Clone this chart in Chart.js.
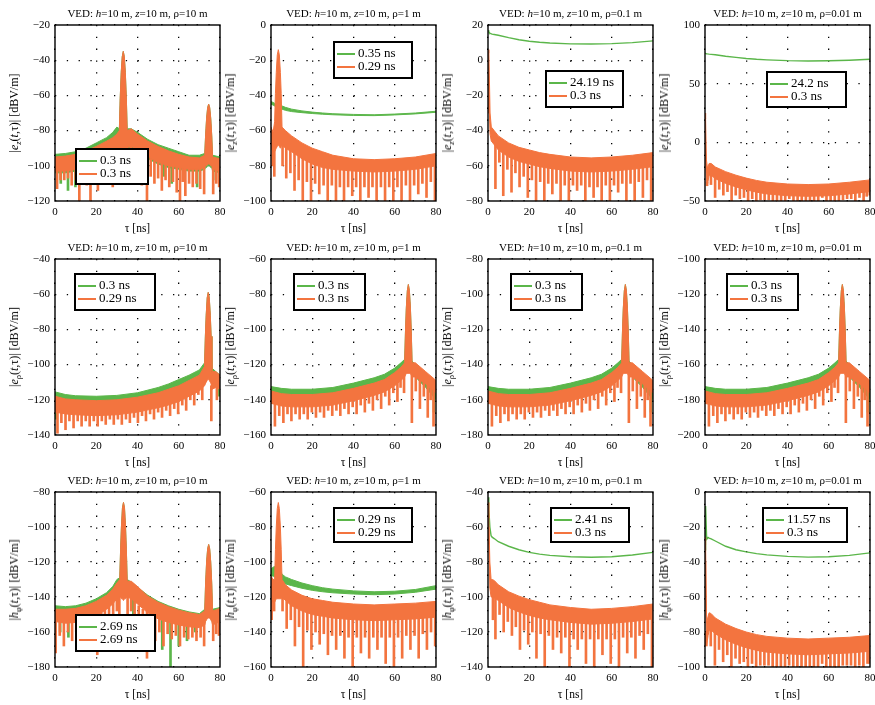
<!DOCTYPE html>
<html>
<head>
<meta charset="utf-8">
<script src="https://cdn.jsdelivr.net/npm/chart.js@4.4.1/dist/chart.umd.min.js"></script>
<style>
  html, body { margin: 0; padding: 0; background: #fff; }
  #fig { position: relative; width: 875px; height: 705px; overflow: hidden; font-family: "Liberation Serif", "Times New Roman", serif; color: #000; }
  #fig canvas { position: absolute; }
  .title, .xlab, .ylab { position: absolute; white-space: nowrap; }
  .title { font-size: 11px; transform: translate(-50%, -50%); }
  .xlab { font-size: 11.5px; transform: translate(-50%, -50%); }
  .ylab { font-size: 12px; transform: translate(-50%, -50%) rotate(-90deg); }
  .ylab sub { font-size: 8.5px; vertical-align: -3px; }
  .legend { position: absolute; box-sizing: border-box; border: 2px solid #000; background: #fff; padding-top: 4px; font-size: 13px; }
  .legend .row { position: relative; height: 12.5px; line-height: 12.5px; white-space: nowrap; }
  .legend .swatch { position: absolute; left: 2px; top: 6px; width: 18px; height: 2px; }
  .legend .lab { position: absolute; left: 23px; top: 0; }
</style>
</head>
<body>
<div id="fig"></div>
<script>
// ---------- data (tau in ns, levels in dB) ----------
// each dip list holds [tau, lowest level, level where the dip leaves the band]

// row 1: |e_z|, rho = 10 m
const p1Tau = [0, 5, 10, 15, 20, 25, 28, 30, 31.2, 31.6, 32.1, 32.6, 33.1, 33.6, 34.1, 34.6, 35.0, 37, 40, 45, 50, 55, 60, 65, 70, 72.6, 73.0, 73.5, 74.0, 74.5, 75.0, 75.5, 76.0, 76.4, 80]
const p1GreenTop = [-93.5, -93, -92, -90, -87, -84, -81, -78, -79, -62, -47, -38, -35, -38, -47, -62, -79, -79, -81, -85, -88, -90, -92, -94, -94, -93, -83, -73, -67, -65, -67, -73, -83, -94, -95]
const p1GreenBot = [-104, -104, -103, -101, -99, -96, -93, -91, -91, -91, -92, -92, -93, -92, -92, -91, -90, -90, -92, -96, -99, -101, -102, -103, -103, -102, -101, -101, -100, -100, -100, -101, -101, -103, -104]
const p1OrangeTop = [-95, -94.5, -93.5, -91.5, -89, -86, -84, -82, -80, -62, -47, -38, -35, -38, -47, -62, -80, -79, -82, -86, -89, -91.5, -93.5, -95, -95.5, -94, -83, -73, -67, -65, -67, -73, -83, -95, -96]
const p1OrangeBot = [-103, -103, -102, -100, -98, -95, -92, -90, -90, -90, -91, -91, -92, -91, -91, -90, -89, -89, -91, -95, -98, -100, -101, -102, -102, -101, -100, -100, -99, -99, -99, -100, -100, -102, -103]
const p1OrangeDips = [[1, -113, -101], [4.5, -108, -101], [8.1, -111, -100], [11.8, -120, -100], [15.4, -111, -99], [17.2, -120, -98], [20.8, -114, -97], [24.4, -109, -95], [28, -112, -91], [31.1, -101, -89], [35.1, -100, -88], [38.5, -109, -90], [42.1, -111, -93], [44.6, -120, -95], [48.2, -110, -97], [51.8, -114, -98], [55.4, -112, -99], [59, -115, -100], [60.6, -120, -100], [63.2, -117, -101], [66.8, -112, -101], [70.4, -113, -101], [72.3, -116, -100], [76.7, -116, -100], [79.6, -112, -102]]
const p1OrangeMinorDips = [[2.7, -108, -101], [6.3, -107, -101], [10, -108, -100], [13.6, -106, -99], [19, -107, -97], [22.6, -105, -96], [26.2, -102, -93], [29.7, -98, -90], [36.7, -97, -89], [40.3, -102, -91], [46.4, -106, -96], [50, -107, -97], [53.6, -108, -98], [57.2, -109, -99], [61.9, -109, -100], [65, -110, -101], [68.6, -110, -101], [78.2, -110, -101]]
const p1GreenDips = [[2.8, -110, -102], [6.3, -114, -102], [9.9, -112, -101], [13.5, -109, -100], [22.3, -107, -97], [29.5, -100, -90], [40.5, -106, -91], [53, -106, -99], [56.6, -110, -100], [68.9, -112, -102], [78, -108, -102]]

// row 1: |e_z|, rho = 1 m
const p2Tau = [0, 1, 1.75, 2.15, 2.55, 3.05, 3.55, 4.05, 4.55, 4.95, 5.35, 7, 10, 15, 20, 25, 30, 40, 50, 60, 70, 80]
const p2GreenTop = [-43.5, -44, -44.5, -44.8, -45, -45.2, -45.3, -45.5, -45.7, -45.9, -46, -46.8, -47.8, -48.8, -49.5, -50, -50.4, -50.8, -51, -50.6, -50, -49]
const p2GreenBot = [-45, -45.5, -46, -46.3, -46.6, -46.8, -47, -47.2, -47.4, -47.6, -47.8, -48.5, -49.2, -49.8, -50.3, -50.7, -51, -51.4, -51.5, -51.1, -50.5, -49.6]
const p2OrangeTop = [-58, -61, -55, -39, -27, -17, -14, -17, -27, -39, -58, -60, -63, -67, -70, -72, -74, -76, -76.5, -76, -75, -73]
const p2OrangeBot = [-70, -72, -72, -71, -70, -69, -68, -69, -70, -69, -68, -70, -72, -76, -79, -81, -82, -83, -83.5, -83, -82, -80]
const p2OrangeDips = [[0.8, -80, -70], [7.4, -87, -68], [11.4, -94, -70], [15.4, -100, -74], [19.4, -100, -77], [23.4, -96, -79], [27.5, -100, -80], [31.5, -100, -81], [35.4, -100, -81], [39.4, -97, -81], [43.3, -100, -82], [47.3, -98, -82], [51.2, -100, -82], [55.3, -100, -82], [59.3, -100, -81], [63.3, -100, -81], [67.4, -100, -81], [71.4, -96, -80], [75.4, -98, -79], [79.5, -100, -78]]
const p2OrangeMinorDips = [[1.6, -86, -70], [5.6, -80, -67], [9.4, -84, -70], [13.4, -88, -73], [17.4, -89, -76], [21.4, -90, -78], [25.5, -91, -79], [29.5, -91, -80], [33.4, -92, -81], [37.4, -92, -81], [41.3, -92, -81], [45.3, -92, -82], [49.2, -92, -82], [53.3, -92, -82], [57.3, -92, -82], [61.3, -92, -81], [65.4, -91, -81], [69.4, -91, -80], [73.4, -90, -79], [77.5, -89, -78]]

// row 1: |e_z|, rho = 0.1 m
const p3Tau = [0, 0.4, 1.0, 1.6, 2, 3, 5, 10, 15, 20, 25, 30, 40, 50, 60, 70, 80]
const p3Green = [17, 16, 15.3, 15, 14.8, 14.6, 14.2, 12.8, 11.6, 10.8, 10.2, 9.8, 9.3, 9.2, 9.4, 10, 11]
const p3OrangeTop = [4, 6, -30, -38, -38.5, -40, -43, -47, -49.5, -51, -52.5, -53.5, -55, -55.5, -55, -54, -52.5]
const p3OrangeBot = [-30, -20, -42, -46, -46.5, -48, -51, -55, -57.5, -59, -60.5, -61.5, -63, -63.5, -63, -62, -60.5]
const p3OrangeDips = [[3.6, -73, -46], [7.4, -77, -50], [11.4, -75, -53], [15.3, -72, -55], [19.3, -78, -57], [23.3, -80, -58], [27.3, -80, -59], [31.2, -76, -60], [35.2, -80, -60], [39.2, -80, -61], [43.2, -74, -61], [47.2, -80, -61], [51.2, -78, -61], [55.1, -80, -61], [59.1, -80, -61], [63.1, -75, -60], [67.1, -80, -60], [71.1, -80, -60], [75.1, -78, -59], [79.1, -80, -59]]
const p3OrangeMinorDips = [[5.5, -58, -47], [9.4, -62, -51], [13.3, -64, -53], [17.3, -66, -55], [21.3, -68, -57], [25.3, -69, -58], [29.2, -70, -59], [33.2, -70, -60], [37.2, -71, -61], [41.2, -71, -61], [45.2, -71, -61], [49.2, -72, -61], [53.1, -72, -61], [57.1, -71, -61], [61.1, -71, -61], [65.1, -70, -60], [69.1, -70, -60], [73.1, -69, -59], [77.1, -68, -59]]

// row 1: |e_z|, rho = 0.01 m
const p4Tau = [0, 0.3, 0.7, 1.2, 2, 3, 5, 10, 15, 20, 25, 30, 40, 50, 60, 70, 80]
const p4Green = [76, 75.8, 75.6, 75.4, 75.2, 75, 74.6, 73.4, 72.4, 71.5, 70.8, 70.3, 69.6, 69.3, 69.5, 70, 70.8]
const p4OrangeTop = [25, 20, -15, -22, -18, -18, -21, -25, -28, -30.5, -32.5, -34, -35.5, -36, -35.5, -34, -32]
const p4OrangeBot = [-10, -15, -37, -36, -28, -28, -31, -35, -38, -40.5, -42.5, -44, -45.5, -46, -45.5, -44, -42]
const p4OrangeDips = [[1.0, -37, -34], [4.9, -47, -29], [8.9, -45, -33], [12.9, -50, -36], [16.9, -48, -38], [20.9, -50, -39], [24.9, -50, -40], [28.9, -49, -42], [32.9, -50, -43], [36.9, -50, -43], [40.9, -48, -43], [44.9, -50, -44], [48.9, -50, -44], [52.9, -50, -44], [56.9, -47, -43], [60.9, -50, -43], [64.9, -50, -42], [68.9, -48, -42], [72.9, -50, -41], [76.9, -50, -41], [79.9, -45, -40]]
const p4OrangeMinorDips = [[2.9, -36, -27], [6.9, -40, -30], [10.9, -42, -34], [14.9, -45, -37], [18.9, -47, -38], [22.9, -48, -40], [26.9, -49, -41], [30.9, -49, -42], [34.9, -50, -43], [38.9, -50, -43], [42.9, -50, -44], [46.9, -50, -44], [50.9, -50, -44], [54.9, -50, -44], [58.9, -50, -43], [62.9, -50, -43], [66.9, -49, -42], [70.9, -48, -42], [74.9, -47, -41], [78.4, -46, -40]]

// row 2: |e_rho|, rho = 10 m
const p5Tau = [0, 5, 10, 20, 30, 40, 50, 55, 60, 65, 70, 72.5, 72.9, 73.3, 73.8, 74.3, 74.8, 75.3, 75.7, 76.1, 78, 80]
const p5GreenTop = [-115.5, -117, -117.7, -118, -117.5, -116, -113, -111, -108.5, -106, -103, -99, -84, -72, -62, -59, -62, -72, -84, -102, -104, -106]
const p5GreenBot = [-122, -123.5, -124, -124.5, -124, -122.5, -120, -118, -115.5, -113, -110, -108, -106, -105, -104, -104, -104, -105, -106, -110, -110, -117]
const p5OrangeTop = [-118, -119.5, -120, -120.5, -120, -118.5, -116, -114, -112, -109, -106, -101, -84, -72, -62, -59, -62, -72, -84, -104, -104, -106]
const p5OrangeBot = [-127, -128, -128.5, -129, -128.5, -127, -124.5, -123, -121, -118, -115, -112, -111, -110, -109, -108, -109, -110, -111, -114, -113, -114]
const p5OrangeDips = [[1.2, -139, -125], [5.1, -137, -126], [9.0, -136, -126], [12.9, -135, -127], [16.8, -135, -127], [20.7, -135, -127], [24.6, -134, -127], [28.5, -134, -127], [32.4, -134, -126], [36.3, -133, -126], [40.2, -133, -125], [44.1, -132, -124], [48.0, -131, -123], [51.9, -130, -122], [55.8, -129, -121], [59.7, -128, -119], [63.6, -126, -117], [67.5, -123, -114], [71.4, -120, -111], [75.8, -132, -112], [78.5, -120, -111]]
const p5OrangeMinorDips = [[3.1, -133, -126], [7.0, -132, -126], [11.0, -132, -127], [14.9, -132, -127], [18.8, -132, -127], [22.7, -132, -127], [26.6, -131, -127], [30.5, -131, -127], [34.4, -131, -126], [38.3, -130, -126], [42.2, -129, -125], [46.1, -128, -124], [50.0, -127, -123], [53.9, -126, -122], [57.8, -125, -120], [61.7, -123, -118], [65.6, -120, -116], [69.5, -117, -113]]
const p5GreenDips = [[0.5, -131, -120], [79.7, -118, -108]]

// row 2: |e_rho|, rho = 1 m
const p6Tau = [0, 5, 10, 20, 30, 40, 50, 55, 60, 63, 64.8, 65.2, 65.6, 66.1, 66.6, 67.1, 67.6, 68.0, 68.4, 70, 75, 80]
const p6GreenTop = [-132.5, -133.5, -134, -134, -133, -130.5, -127.5, -125.5, -122, -119, -117, -101, -88, -78, -74.5, -78, -88, -101, -118, -120, -125, -130]
const p6GreenBot = [-139, -140, -140.5, -140.5, -139.5, -137.5, -134.5, -132.5, -129.5, -127, -125, -124, -123, -123, -123, -123, -123, -124, -125, -127, -133, -140]
const p6OrangeTop = [-135, -136.5, -137, -137, -136, -133.5, -130.5, -128.5, -124.5, -121.5, -119, -101, -88, -78, -74.5, -78, -88, -101, -119, -119, -124, -129]
const p6OrangeBot = [-142, -143.5, -144, -144, -143, -140.5, -137.5, -135.5, -132, -129, -127, -126, -125, -125, -125, -125, -125, -126, -127, -127, -131, -136]
const p6OrangeDips = [[1.9, -155, -140], [6.0, -153, -141], [9.9, -152, -142], [13.9, -151, -142], [17.8, -151, -142], [21.8, -150, -142], [25.7, -150, -141], [29.7, -149, -141], [33.6, -149, -140], [37.6, -148, -139], [41.5, -148, -138], [45.5, -147, -137], [49.4, -146, -135], [53.4, -145, -133], [57.3, -143, -131], [61.3, -141, -128], [64.5, -136, -125], [68.3, -153, -125], [72.2, -145, -127], [76.0, -150, -129], [78.8, -155, -134]]
const p6OrangeMinorDips = [[4.0, -149, -141], [8.0, -148, -142], [11.9, -148, -142], [15.9, -148, -142], [19.8, -147, -142], [23.8, -147, -142], [27.7, -146, -141], [31.7, -146, -141], [35.6, -145, -140], [39.6, -144, -139], [43.5, -143, -138], [47.5, -142, -136], [51.4, -140, -134], [55.4, -138, -132], [59.3, -136, -130], [62.8, -133, -127], [70.2, -135, -127], [74.1, -138, -129], [77.4, -140, -132]]
const p6GreenDips = [[0.3, -142, -137], [79.0, -147, -138]]

// row 2: |e_rho|, rho = 0.1 m
const p7Tau = [0, 5, 10, 20, 30, 40, 50, 55, 60, 63, 64.8, 65.2, 65.6, 66.1, 66.6, 67.1, 67.6, 68.0, 68.4, 70, 75, 80]
const p7GreenTop = [-152.5, -153.5, -154, -154, -153, -150.5, -147.5, -145.5, -142, -139, -137, -121, -108, -98, -94.5, -98, -108, -121, -138, -140, -145, -150]
const p7GreenBot = [-159, -160, -160.5, -160.5, -159.5, -157.5, -154.5, -152.5, -149.5, -147, -145, -144, -143, -143, -143, -143, -143, -144, -145, -147, -153, -160]
const p7OrangeTop = [-155, -156.5, -157, -157, -156, -153.5, -150.5, -148.5, -144.5, -141.5, -139, -121, -108, -98, -94.5, -98, -108, -121, -139, -139, -144, -149]
const p7OrangeBot = [-162, -163.5, -164, -164, -163, -160.5, -157.5, -155.5, -152, -149, -147, -146, -145, -145, -145, -145, -145, -146, -147, -147, -151, -156]
const p7OrangeDips = [[1.9, -175, -160], [6.0, -173, -161], [9.9, -172, -162], [13.9, -171, -162], [17.8, -171, -162], [21.8, -170, -162], [25.7, -170, -161], [29.7, -169, -161], [33.6, -169, -160], [37.6, -168, -159], [41.5, -168, -158], [45.5, -167, -157], [49.4, -166, -155], [53.4, -165, -153], [57.3, -163, -151], [61.3, -161, -148], [64.5, -156, -145], [68.3, -173, -145], [72.2, -165, -147], [76.0, -170, -149], [78.8, -175, -154]]
const p7OrangeMinorDips = [[4.0, -169, -161], [8.0, -168, -162], [11.9, -168, -162], [15.9, -168, -162], [19.8, -167, -162], [23.8, -167, -162], [27.7, -166, -161], [31.7, -166, -161], [35.6, -165, -160], [39.6, -164, -159], [43.5, -163, -158], [47.5, -162, -156], [51.4, -160, -154], [55.4, -158, -152], [59.3, -156, -150], [62.8, -153, -147], [70.2, -155, -147], [74.1, -158, -149], [77.4, -160, -152]]
const p7GreenDips = [[0.3, -162, -157], [79.0, -167, -158]]

// row 2: |e_rho|, rho = 0.01 m
const p8Tau = [0, 5, 10, 20, 30, 40, 50, 55, 60, 63, 64.8, 65.2, 65.6, 66.1, 66.6, 67.1, 67.6, 68.0, 68.4, 70, 75, 80]
const p8GreenTop = [-172.5, -173.5, -174, -174, -173, -170.5, -167.5, -165.5, -162, -159, -157, -141, -128, -118, -114.5, -118, -128, -141, -158, -160, -165, -170]
const p8GreenBot = [-179, -180, -180.5, -180.5, -179.5, -177.5, -174.5, -172.5, -169.5, -167, -165, -164, -163, -163, -163, -163, -163, -164, -165, -167, -173, -180]
const p8OrangeTop = [-175, -176.5, -177, -177, -176, -173.5, -170.5, -168.5, -164.5, -161.5, -159, -141, -128, -118, -114.5, -118, -128, -141, -159, -159, -164, -169]
const p8OrangeBot = [-182, -183.5, -184, -184, -183, -180.5, -177.5, -175.5, -172, -169, -167, -166, -165, -165, -165, -165, -165, -166, -167, -167, -171, -176]
const p8OrangeDips = [[1.9, -195, -180], [6.0, -193, -181], [9.9, -192, -182], [13.9, -191, -182], [17.8, -191, -182], [21.8, -190, -182], [25.7, -190, -181], [29.7, -189, -181], [33.6, -189, -180], [37.6, -188, -179], [41.5, -188, -178], [45.5, -187, -177], [49.4, -186, -175], [53.4, -185, -173], [57.3, -183, -171], [61.3, -181, -168], [64.5, -176, -165], [68.3, -193, -165], [72.2, -185, -167], [76.0, -190, -169], [78.8, -195, -174]]
const p8OrangeMinorDips = [[4.0, -189, -181], [8.0, -188, -182], [11.9, -188, -182], [15.9, -188, -182], [19.8, -187, -182], [23.8, -187, -182], [27.7, -186, -181], [31.7, -186, -181], [35.6, -185, -180], [39.6, -184, -179], [43.5, -183, -178], [47.5, -182, -176], [51.4, -180, -174], [55.4, -178, -172], [59.3, -176, -170], [62.8, -173, -167], [70.2, -175, -167], [74.1, -178, -169], [77.4, -180, -172]]
const p8GreenDips = [[0.3, -182, -177], [79.0, -187, -178]]

// row 3: |h_phi|, rho = 10 m
const p9Tau = [0, 5, 10, 15, 20, 25, 28, 30, 31.4, 31.8, 32.2, 32.7, 33.2, 33.7, 34.2, 34.6, 35.0, 37, 40, 45, 50, 55, 60, 65, 70, 72.6, 73.0, 73.5, 74.0, 74.5, 75.0, 75.5, 76.0, 76.4, 80]
const p9GreenTop = [-145, -145.5, -145, -143.5, -141, -137.5, -134, -130, -129, -113, -100, -89, -86, -89, -100, -113, -130, -131.5, -134.5, -139, -142.5, -145, -147, -148.5, -149.5, -147, -132.5, -120, -112.5, -110, -112.5, -120, -132.5, -147, -146]
const p9GreenBot = [-152, -153, -153, -152, -150, -146, -143, -140, -139, -139, -140, -140, -141, -140, -140, -139, -139, -140, -143, -148, -151.5, -153.5, -155, -156, -156.5, -155, -153, -152, -151, -151, -151, -152, -153, -155, -153]
const p9OrangeTop = [-147, -147, -146.5, -145, -142.5, -139, -135.5, -132, -130, -113, -100, -89, -86, -89, -100, -113, -131, -131, -134, -139.5, -143, -145.5, -147.5, -149, -150, -148, -132.5, -120, -112.5, -110, -112.5, -120, -132.5, -148, -146.5]
const p9OrangeBot = [-154, -155, -154.5, -153, -151, -147, -144, -141, -140, -140, -141, -141, -142, -141, -141, -140, -140, -141, -144, -149, -152.5, -154.5, -156, -157, -157.5, -156, -154, -153, -152, -152, -152, -153, -154, -156, -154]
const p9OrangeDips = [[0.3, -172, -152], [4.3, -168, -153], [8.3, -165, -153], [12.2, -166, -153], [16.2, -162, -151], [20.5, -173, -150], [24.2, -160, -147], [28.2, -158, -143], [31.2, -150, -139], [35.2, -152, -139], [38.6, -160, -142], [42.6, -160, -147], [44.6, -175, -148], [48.6, -165, -151], [52.6, -168, -153], [56.6, -164, -154], [60.6, -168, -155], [64.6, -164, -156], [68.6, -165, -156], [72.3, -168, -155], [76.7, -165, -155], [79.5, -162, -153]]
const p9OrangeMinorDips = [[2.3, -162, -153], [6.3, -160, -153], [10.3, -160, -153], [14.2, -159, -152], [18.3, -157, -151], [22.4, -156, -149], [26.2, -153, -145], [30, -148, -140], [36.9, -148, -140], [40.6, -152, -145], [46.6, -158, -150], [50.6, -160, -152], [54.6, -161, -153], [58.6, -162, -155], [62.6, -163, -156], [66.6, -163, -156], [70.6, -163, -156], [78.2, -161, -154]]
const p9GreenDips = [[2.5, -160, -151], [6.5, -163, -152], [10.5, -160, -152], [18, -158, -150], [22.2, -157, -148], [38, -152, -141], [48, -165, -150], [52, -170, -152], [56, -180, -153], [60, -168, -154], [64, -165, -155], [68, -160, -155]]

// row 3: |h_phi|, rho = 1 m
const p10Tau = [0, 1, 1.75, 2.15, 2.55, 3.05, 3.55, 4.05, 4.55, 4.95, 5.35, 7, 10, 15, 20, 25, 30, 40, 50, 60, 70, 80]
const p10GreenTop = [-104, -103, -102.5, -103, -103.5, -104, -104.5, -105, -105.5, -106, -107, -108.5, -110, -112, -113.5, -114.7, -115.5, -116.5, -117, -116.7, -115.7, -113.5]
const p10GreenBot = [-108, -108, -108.5, -108.8, -109.2, -109.6, -110, -110.4, -110.8, -111.2, -111.5, -112.5, -113.5, -115, -116.2, -117, -117.6, -118.3, -118.7, -118.3, -117.3, -115.5]
const p10OrangeTop = [-108, -110, -110, -93, -80, -69.5, -66, -69.5, -80, -93, -110, -113, -116, -119, -121, -122, -123, -124, -124.5, -124, -123.5, -122.5]
const p10OrangeBot = [-122, -123, -123, -122, -121, -121, -121, -121, -121, -121, -120, -122, -125, -128, -130, -131, -132, -133, -133.5, -133, -132.5, -131.5]
const p10OrangeDips = [[0.3, -133, -121], [7.6, -138, -120], [11.6, -148, -123], [15.6, -160, -126], [19.6, -150, -128], [23.6, -147, -129], [27.6, -153, -130], [31.6, -150, -131], [35.6, -155, -131], [39.6, -160, -132], [43.6, -152, -132], [47.6, -155, -132], [51.6, -150, -132], [55.6, -158, -132], [59.6, -160, -132], [63.6, -155, -131], [67.6, -150, -131], [71.6, -155, -131], [75.6, -150, -130], [79.6, -148, -130]]
const p10OrangeMinorDips = [[1.5, -128, -121], [5.6, -128, -119], [9.6, -133, -122], [13.6, -137, -125], [17.6, -139, -127], [21.6, -140, -129], [25.6, -141, -130], [29.6, -142, -131], [33.6, -142, -131], [37.6, -143, -132], [41.6, -143, -132], [45.6, -143, -132], [49.6, -143, -132], [53.6, -143, -132], [57.6, -143, -132], [61.6, -143, -131], [65.6, -142, -131], [69.6, -142, -131], [73.6, -141, -130], [77.6, -140, -130]]

// row 3: |h_phi|, rho = 0.1 m
const p11Tau = [0, 0.4, 0.9, 1.5, 2, 3, 5, 10, 15, 20, 25, 30, 40, 50, 60, 70, 80]
const p11Green = [-43, -50, -60, -65, -65.8, -66.6, -68.4, -71, -73, -74.5, -75.5, -76.2, -77, -77.3, -77, -76, -74.5]
const p11OrangeTop = [-46, -55, -80, -90, -90, -90.5, -93, -97, -99.5, -101.5, -103, -104.5, -106, -107, -106.5, -105.5, -104]
const p11OrangeBot = [-60, -70, -95, -100, -100, -100.5, -102, -106, -108.5, -110.5, -112, -113, -114.5, -115.5, -115, -114, -112.5]
const p11OrangeDips = [[2.4, -113, -98], [3.6, -124, -98], [7.6, -120, -103], [11.6, -122, -105], [15.5, -130, -107], [19.5, -127, -108], [23.5, -135, -110], [27.5, -140, -111], [31.5, -130, -111], [35.5, -132, -112], [39.5, -140, -112], [43.5, -130, -113], [47.5, -138, -113], [51.5, -140, -113], [55.5, -133, -113], [59.5, -138, -113], [63.5, -140, -112], [67.5, -132, -112], [71.5, -135, -111], [75.5, -130, -111], [79.5, -140, -110]]
const p11OrangeMinorDips = [[5.6, -110, -101], [9.6, -114, -104], [13.5, -117, -106], [17.5, -119, -108], [21.5, -120, -109], [25.5, -121, -110], [29.5, -122, -111], [33.5, -123, -112], [37.5, -123, -112], [41.5, -124, -113], [45.5, -124, -113], [49.5, -124, -113], [53.5, -124, -113], [57.5, -124, -113], [61.5, -124, -113], [65.5, -123, -112], [69.5, -123, -112], [73.5, -122, -111], [77.5, -121, -110]]

// row 3: |h_phi|, rho = 0.01 m
const p12Tau = [0, 0.3, 0.8, 1.5, 2, 3, 5, 10, 15, 20, 25, 30, 40, 50, 60, 70, 80]
const p12Green = [-33, -8, -27, -26, -26.3, -26.8, -28, -31, -33, -34.2, -35.2, -35.9, -36.8, -37.2, -37, -36.2, -34.8]
const p12OrangeTop = [-26, -30, -75, -71, -69, -69.5, -72, -75.5, -78, -80, -81.5, -82.5, -83.5, -84, -83.5, -83, -82]
const p12OrangeBot = [-40, -60, -88, -82, -79, -79, -81, -84.5, -87, -89, -90.5, -91.5, -92.5, -93, -92.5, -92, -91]
const p12OrangeDips = [[0.6, -88, -80], [4.8, -99, -79], [8.8, -97, -82], [12.8, -100, -85], [16.8, -98, -87], [20.8, -100, -88], [24.8, -100, -89], [28.8, -99, -90], [32.8, -100, -90], [36.8, -100, -91], [40.8, -99, -91], [44.8, -100, -91], [48.8, -100, -91], [52.8, -100, -91], [56.8, -98, -91], [60.8, -100, -91], [64.8, -100, -90], [68.8, -99, -90], [72.8, -100, -90], [76.8, -100, -89], [79.8, -98, -89]]
const p12OrangeMinorDips = [[2.8, -88, -78], [6.8, -90, -80], [10.8, -93, -83], [14.8, -95, -86], [18.8, -97, -87], [22.8, -98, -89], [26.8, -99, -90], [30.8, -99, -90], [34.8, -100, -91], [38.8, -100, -91], [42.8, -100, -91], [46.8, -100, -91], [50.8, -100, -91], [54.8, -100, -91], [58.8, -100, -91], [62.8, -100, -91], [66.8, -99, -90], [70.8, -99, -90], [74.8, -99, -89], [78.8, -98, -89]]

// legend texts (green first, orange second)
const greenNames = ['0.3 ns', '0.35 ns', '24.19 ns', '24.2 ns', '0.3 ns', '0.3 ns', '0.3 ns', '0.3 ns', '2.69 ns', '0.29 ns', '2.41 ns', '11.57 ns']
const orangeNames = ['0.3 ns', '0.29 ns', '0.3 ns', '0.3 ns', '0.29 ns', '0.3 ns', '0.3 ns', '0.3 ns', '2.69 ns', '0.29 ns', '0.3 ns', '0.3 ns']

// axis ranges / tick labels
const rhoValues = ['10', '1', '0.1', '0.01']
const yMin = [-120, -100, -80, -50, -140, -160, -180, -200, -180, -160, -140, -100]
const yMax = [-20, 0, 20, 100, -40, -60, -80, -100, -80, -60, -40, 0]
const yStep = [20, 20, 20, 50, 20, 20, 20, 20, 20, 20, 20, 20]
const xTickStep = 20

// ---------- layout ----------
const GREEN = '#5bb64a'
const ORANGE = '#f3743f'
const colLeft = [55, 271, 488, 705]
const rowTop = [25, 259, 492]
const plotH = [176, 176, 175]
const PLOT_W = 165
const legendBoxes = [
  [75, 148, 74, 37], [333, 41, 80, 38], [545, 70, 79, 38], [766, 71, 81, 37],
  [74, 273, 82, 38], [293, 273, 73, 38], [510, 273, 73, 38], [726, 273, 73, 38],
  [75, 614, 81, 38], [333, 507, 80, 36], [550, 507, 80, 36], [762, 507, 86, 36]
]
const yLabels = [
  '|<i>e</i><sub><i>z</i></sub>(<i>t</i>,τ)| [dBV/m]',
  '|<i>e</i><sub>ρ</sub>(<i>t</i>,τ)| [dBV/m]',
  '|<i>h</i><sub>φ</sub>(<i>t</i>,τ)| [dBV/m]'
]

const panels = [
  { green: { tau: p1Tau, top: p1GreenTop, bot: p1GreenBot, dips: p1GreenDips }, orange: { tau: p1Tau, top: p1OrangeTop, bot: p1OrangeBot, dips: p1OrangeDips.concat(p1OrangeMinorDips) } },
  { green: { tau: p2Tau, top: p2GreenTop, bot: p2GreenBot }, orange: { tau: p2Tau, top: p2OrangeTop, bot: p2OrangeBot, dips: p2OrangeDips.concat(p2OrangeMinorDips) } },
  { green: { tau: p3Tau, line: p3Green }, orange: { tau: p3Tau, top: p3OrangeTop, bot: p3OrangeBot, dips: p3OrangeDips.concat(p3OrangeMinorDips) } },
  { green: { tau: p4Tau, line: p4Green }, orange: { tau: p4Tau, top: p4OrangeTop, bot: p4OrangeBot, dips: p4OrangeDips.concat(p4OrangeMinorDips) } },
  { green: { tau: p5Tau, top: p5GreenTop, bot: p5GreenBot, dips: p5GreenDips }, orange: { tau: p5Tau, top: p5OrangeTop, bot: p5OrangeBot, dips: p5OrangeDips.concat(p5OrangeMinorDips) } },
  { green: { tau: p6Tau, top: p6GreenTop, bot: p6GreenBot, dips: p6GreenDips }, orange: { tau: p6Tau, top: p6OrangeTop, bot: p6OrangeBot, dips: p6OrangeDips.concat(p6OrangeMinorDips) } },
  { green: { tau: p7Tau, top: p7GreenTop, bot: p7GreenBot, dips: p7GreenDips }, orange: { tau: p7Tau, top: p7OrangeTop, bot: p7OrangeBot, dips: p7OrangeDips.concat(p7OrangeMinorDips) } },
  { green: { tau: p8Tau, top: p8GreenTop, bot: p8GreenBot, dips: p8GreenDips }, orange: { tau: p8Tau, top: p8OrangeTop, bot: p8OrangeBot, dips: p8OrangeDips.concat(p8OrangeMinorDips) } },
  { green: { tau: p9Tau, top: p9GreenTop, bot: p9GreenBot, dips: p9GreenDips }, orange: { tau: p9Tau, top: p9OrangeTop, bot: p9OrangeBot, dips: p9OrangeDips.concat(p9OrangeMinorDips) } },
  { green: { tau: p10Tau, top: p10GreenTop, bot: p10GreenBot }, orange: { tau: p10Tau, top: p10OrangeTop, bot: p10OrangeBot, dips: p10OrangeDips.concat(p10OrangeMinorDips) } },
  { green: { tau: p11Tau, line: p11Green }, orange: { tau: p11Tau, top: p11OrangeTop, bot: p11OrangeBot, dips: p11OrangeDips.concat(p11OrangeMinorDips) } },
  { green: { tau: p12Tau, line: p12Green }, orange: { tau: p12Tau, top: p12OrangeTop, bot: p12OrangeBot, dips: p12OrangeDips.concat(p12OrangeMinorDips) } }
]

function pts(xs, ys) {
  return xs.map((x, i) => ({ x: x, y: ys[i] }))
}

// one series -> line datasets (band = two edges filled between) + dip bars
function seriesSets(s, color, order) {
  const sets = []
  if (s.line) {
    sets.push({ type: 'line', data: pts(s.tau, s.line), borderColor: color, borderWidth: 1.4, pointRadius: 0, fill: false, order: order })
  } else {
    sets.push({ type: 'line', data: pts(s.tau, s.top), borderColor: color, borderWidth: 1, pointRadius: 0, fill: false, order: order })
    sets.push({ type: 'line', data: pts(s.tau, s.bot), borderColor: color, backgroundColor: color, borderWidth: 1, pointRadius: 0, fill: '-1', order: order })
  }
  if (s.dips) {
    sets.push({
      type: 'bar',
      data: s.dips.map(d => ({ x: d[0], y: [d[1], d[2]] })),
      backgroundColor: color,
      borderWidth: 0,
      barThickness: 2,
      grouped: false,
      order: order
    })
  }
  return sets
}

const minus = v => String(v).replace('-', '\u2212')

const framePlugin = {
  id: 'frame',
  afterDatasetsDraw(chart) {
    const { ctx, chartArea: a } = chart
    ctx.save()
    ctx.strokeStyle = '#000'
    ctx.lineWidth = 1.4
    ctx.strokeRect(a.left, a.top, a.right - a.left, a.bottom - a.top)
    ctx.restore()
  }
}

const fig = document.getElementById('fig')

function addDiv(cls, html, left, top) {
  const d = document.createElement('div')
  d.className = cls
  d.innerHTML = html
  d.style.left = left + 'px'
  d.style.top = top + 'px'
  fig.appendChild(d)
  return d
}

panels.forEach((p, i) => {
  const r = Math.floor(i / 4)
  const c = i % 4
  const L = colLeft[c]
  const T = rowTop[r]
  const H = plotH[r]

  const canvas = document.createElement('canvas')
  canvas.width = 240
  canvas.height = 25 + H + 33
  canvas.style.left = (L - 54) + 'px'
  canvas.style.top = (T - 25) + 'px'
  canvas.style.width = '240px'
  canvas.style.height = canvas.height + 'px'
  fig.appendChild(canvas)

  const datasets = seriesSets(p.green, GREEN, 2).concat(seriesSets(p.orange, ORANGE, 1))

  const tickFont = { family: 'Liberation Serif', size: 11 }
  new Chart(canvas, {
    type: 'line',
    data: { datasets: datasets },
    options: {
      responsive: false,
      animation: false,
      events: [],
      layout: { padding: { top: 25, right: 21, left: 0, bottom: 0 } },
      plugins: { legend: { display: false }, title: { display: false }, tooltip: { enabled: false } },
      scales: {
        x: {
          type: 'linear',
          min: 0,
          max: 80,
          offset: false,
          afterFit: (scale) => { scale.height = 33 },
          ticks: { stepSize: xTickStep, color: '#000', font: tickFont, padding: 5, maxRotation: 0 },
          grid: { color: '#000', lineWidth: 1.3, drawTicks: false, offset: false },
          border: { display: false, dash: [1.3, 10.5] }
        },
        y: {
          type: 'linear',
          min: yMin[i],
          max: yMax[i],
          afterFit: (scale) => { scale.width = 54 },
          ticks: { stepSize: yStep[i], color: '#000', font: tickFont, padding: 5, callback: v => minus(v) },
          grid: { color: '#000', lineWidth: 1.3, drawTicks: false },
          border: { display: false, dash: [1.3, 10.5] }
        }
      }
    },
    plugins: [framePlugin]
  })

  // texts
  addDiv('title', 'VED: <i>h</i>=10 m, <i>z</i>=10 m, ρ=' + rhoValues[c] + ' m', L + PLOT_W / 2, T - 12)
  addDiv('xlab', 'τ [ns]', L + PLOT_W / 2, T + H + 27)
  addDiv('ylab', yLabels[r], L - 40, T + H / 2)

  // legend box
  const b = legendBoxes[i]
  const leg = addDiv('legend', '', b[0], b[1])
  leg.style.width = b[2] + 'px'
  leg.style.height = b[3] + 'px'
  ;[[greenNames[i], GREEN], [orangeNames[i], ORANGE]].forEach(e => {
    const row = document.createElement('div')
    row.className = 'row'
    row.innerHTML = '<span class="swatch" style="background:' + e[1] + '"></span><span class="lab">' + e[0] + '</span>'
    leg.appendChild(row)
  })
})
</script>
</body>
</html>
